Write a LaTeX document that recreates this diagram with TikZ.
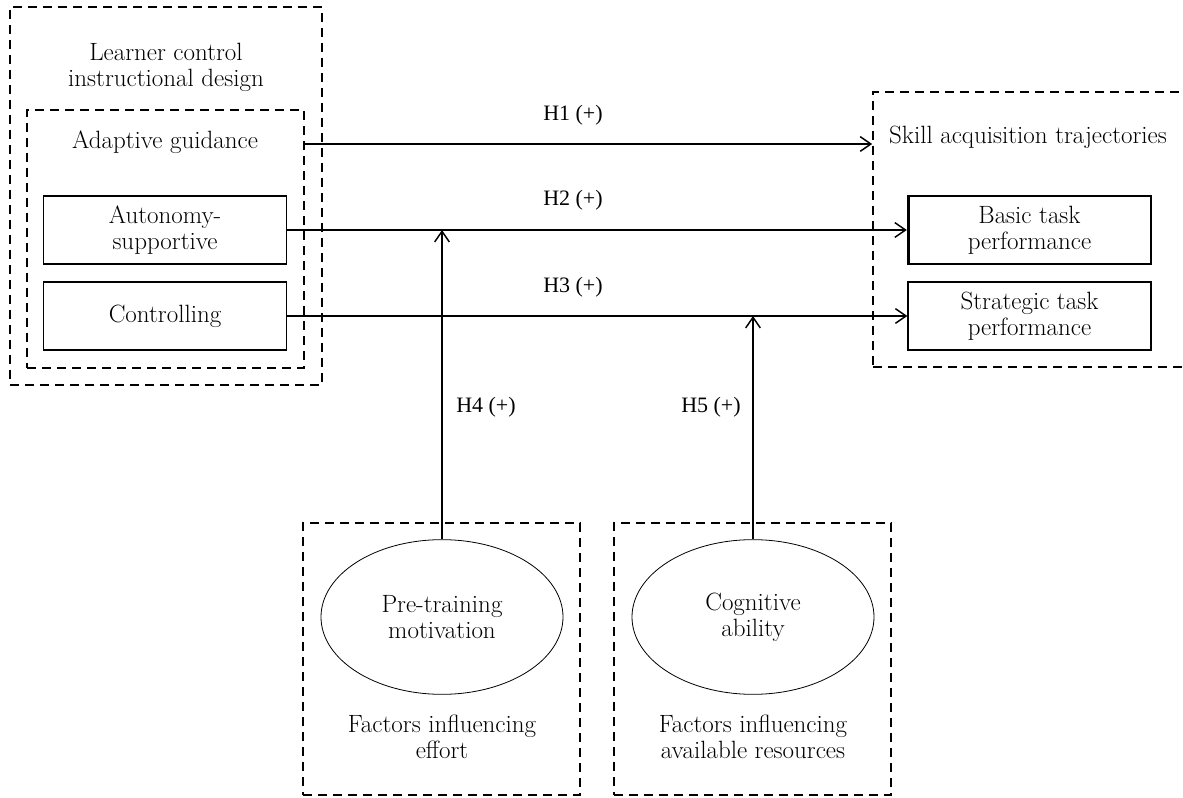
\documentclass[tikz,border=0pt]{standalone}
\usepackage{fontspec}
\newfontfamily\hypfont{Liberation Serif}
\usepackage{tikz}
\usetikzlibrary{arrows.meta,fit,shapes.geometric}
\tikzset{font=\fontsize{18.75}{19.5}\selectfont}
\tikzset{
  dashbox/.style={draw,dash pattern=on 6.75pt off 4.5pt,line width=1.25pt,inner sep=0pt},
  solidbox/.style={draw,line width=1.2pt,inner sep=0pt,align=center,
    minimum width=182pt,minimum height=51pt},
  factor/.style={draw,ellipse,line width=0.6pt,inner sep=0pt,align=center,
    minimum width=181.5pt,minimum height=116pt},
  hyp/.style={line width=1.1pt,-{Straight Barb[length=8pt,width=11pt,line width=1.1pt]}},
  hlabel/.style={font=\hypfont\fontsize{16.5}{19.5}\selectfont}
}

\begin{document}
\begin{tikzpicture}[x=0.75pt,y=-0.75pt]
\useasboundingbox (0,0) rectangle (1183,798);
% learner control side
\node[dashbox,fit={(10,7) (322,385)}] (lcd) {};
\node[align=center] (lcdtitle) at (166,67) {Learner control\\instructional design};
\node[dashbox,fit={(27,110) (304,368)}] (ag) {};
\node (agtitle) at (165,142) {Adaptive guidance};
\node[solidbox] (auto) at (165,230) {Autonomy-\\supportive};
\node[solidbox] (ctrl) at (165,316) {Controlling};
% outcomes
\node[dashbox,fit={(873,92) (1196,367)}] (sat) {};
\node (sattitle) at (1028,137) {Skill acquisition trajectories};
\node[solidbox,line width=2pt] (basic) at (1029.5,230) {Basic task\\performance};
\node[solidbox] (strat) at (1029.5,316) {Strategic task\\performance};
% moderators
\node[dashbox,fit={(303,523) (580,795)}] (eff) {};
\node[factor] (motiv) at (442,617) {Pre-training\\motivation};
\node[align=center] (efftitle) at (442,737) {Factors influencing\\effort};
\node[dashbox,fit={(614,523) (891,795)}] (res) {};
\node[factor] (cog) at (753,617) {Cognitive\\ability};
\node[align=center] (restitle) at (753,737) {Factors influencing\\available resources};
% hypotheses
\draw[hyp] (ag.east |- 0,144) -- (sat.west |- 0,144);
\draw[hyp] (auto.east) -- (basic.west);
\draw[hyp] (ctrl.east) -- (strat.west);
\draw[hyp] (motiv.north) -- (motiv.north |- auto.east);
\draw[hyp] (cog.north) -- (cog.north |- ctrl.east);
\node[hlabel] (h1) at (573,115) {H1 (+)};
\node[hlabel] (h2) at (573,200) {H2 (+)};
\node[hlabel] (h3) at (573,287) {H3 (+)};
\node[hlabel] (h4) at (486,407) {H4 (+)};
\node[hlabel] (h5) at (711,407) {H5 (+)};
\end{tikzpicture}
\end{document}
